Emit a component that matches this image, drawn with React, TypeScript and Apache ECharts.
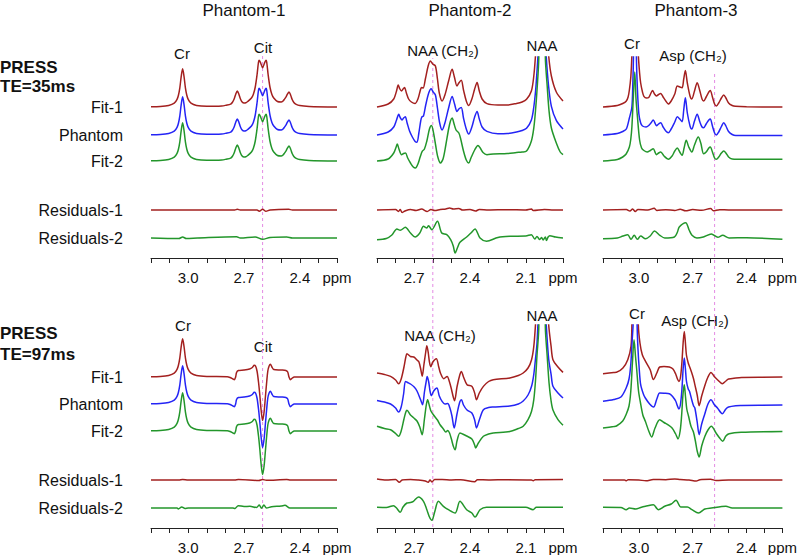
import React, { useEffect, useRef } from "react";
import * as echarts from "echarts";

// ---------- labels / axes ----------
const TRACE_NAMES = ["Fit-1", "Phantom", "Fit-2", "Residuals-1", "Residuals-2"];
const TOP_OFFSETS = [151, 123, 97, 48, 20];
const BOTTOM_OFFSETS = [151, 124, 97, 48, 20];
const COLUMN_TITLES = ["Phantom-1", "Phantom-2", "Phantom-3"];
const PPM_RANGES = [[2.2, 3.2], [1.9, 2.9], [2.2, 3.2]];
const TICK_LABELS = [["3.0", "2.7", "2.4"], ["2.7", "2.4", "2.1"], ["3.0", "2.7", "2.4"]];
const DASH_PPM = 2.6;

// ---------- Phantom-1, TE=35ms ----------
const P1T_SPEC = [[3.2,0.3],[3.15,0.5],[3.105,1.5],[3.075,3.8],[3.06,7.7],[3.0525,11.8],[3.045,19.2],[3.0375,30.6],[3.03,38.3],[3.0225,30.6],[3.015,19.2],[3.0075,11.8],[3.0,7.7],[2.985,3.8],[2.955,1.5],[2.9,0.7],[2.82,1],[2.796,1.8],[2.772,2.9],[2.762,4.8],[2.753,8],[2.7445,12.8],[2.736,16],[2.7275,12.8],[2.719,8],[2.71,5],[2.7,4],[2.69,4.3],[2.68,5.5],[2.66,9],[2.65,12.5],[2.64,19.5],[2.63,32],[2.622,45],[2.618,46.7],[2.61,43.8],[2.6,39.3],[2.59,43.8],[2.582,46.7],[2.578,45],[2.57,32],[2.56,19.5],[2.55,12.5],[2.54,9],[2.52,5.5],[2.5,5],[2.49,6],[2.484,7.5],[2.475,9.8],[2.4665,12.8],[2.458,15],[2.4495,12],[2.441,7.5],[2.432,4.5],[2.422,2.9],[2.4,1.4],[2.35,0.6],[2.2,0.1]];
const P1T_RES1 = [[3.2,0],[2.75,0],[2.736,0.7],[2.72,0],[2.63,0],[2.618,-1.3],[2.6,0.7],[2.582,-1.3],[2.56,0],[2.46,0.7],[2.44,0],[2.2,0]];
const P1T_RES2 = [[3.2,0],[3.05,-0.5],[3.03,1],[3.01,-0.5],[2.95,0],[2.74,1.3],[2.72,0],[2.64,1],[2.6,-1.3],[2.56,0.5],[2.47,1],[2.44,0],[2.2,0]];

// ---------- Phantom-2, TE=35ms ----------
const P2T_FIT1 = [[2.9,0],[2.84,3],[2.81,8],[2.795,16],[2.786,22],[2.777,18],[2.768,16],[2.76,18],[2.752,19.4],[2.742,14],[2.73,8],[2.715,5],[2.696,3.4],[2.68,8],[2.668,16],[2.661,19.4],[2.652,19],[2.64,28],[2.625,41],[2.613,46],[2.6,43],[2.586,41],[2.575,28],[2.565,14],[2.55,6],[2.535,12],[2.515,26],[2.496,37.7],[2.484,30],[2.47,21],[2.46,24],[2.447,26.7],[2.435,17],[2.42,6],[2.407,1.5],[2.39,8],[2.375,18],[2.362,24.4],[2.35,16],[2.335,8],[2.309,3.4],[2.25,2],[2.2,2],[2.15,3.5],[2.12,5],[2.096,7.7],[2.07,16],[2.057,31],[2.048,51],[2.04,75],[2.03,150],[2.0125,600],[1.995,150],[1.985,75],[1.977,51],[1.9625,31],[1.936,15],[1.9,6]];
const P2T_PHANTOM = [[2.9,0],[2.84,3],[2.81,8],[2.795,15],[2.783,20.7],[2.774,17],[2.765,15],[2.757,17],[2.748,18.3],[2.738,12],[2.725,4],[2.71,-2],[2.695,-6.5],[2.685,-7.3],[2.675,2],[2.665,14],[2.659,18],[2.65,19],[2.638,30],[2.622,42],[2.609,46.3],[2.598,43],[2.586,40],[2.575,27],[2.563,12],[2.55,5],[2.535,12],[2.515,27],[2.496,38.6],[2.483,31],[2.47,23.6],[2.46,26],[2.447,27.6],[2.435,17],[2.42,6],[2.407,1],[2.39,8],[2.375,18],[2.362,23.6],[2.35,16],[2.335,8],[2.309,3.6],[2.25,1.3],[2.2,1.5],[2.15,3],[2.12,4.5],[2.096,6.7],[2.07,15],[2.057,28],[2.047,45],[2.04,63],[2.035,78],[2.03,100],[2.02,300],[2.0125,1500],[2.005,300],[1.995,100],[1.99,78],[1.977,48],[1.9625,28.7],[1.936,14.6],[1.9,6]];
const P2T_FIT2 = [[2.9,0],[2.84,2],[2.81,8],[2.797,14],[2.791,17],[2.782,12],[2.768,6.3],[2.757,7.5],[2.747,8],[2.735,3],[2.72,-2],[2.705,-6],[2.693,-7],[2.68,-3],[2.668,4],[2.657,9.6],[2.645,12],[2.632,20],[2.618,32],[2.607,35.6],[2.596,28],[2.585,16],[2.573,4],[2.559,-2],[2.545,2],[2.53,16],[2.515,32],[2.505,40],[2.496,43],[2.487,38],[2.475,31],[2.46,28],[2.45,22],[2.435,10],[2.42,1],[2.407,-2],[2.395,3],[2.375,11],[2.357,15.6],[2.345,13],[2.33,8.5],[2.309,6.3],[2.275,7],[2.2,7.5],[2.15,8.5],[2.12,9],[2.096,10],[2.07,20],[2.057,33],[2.048,50],[2.04,70],[2.03,104],[2.02,300],[2.0125,1500],[2.005,300],[1.995,104],[1.985,75],[1.975,50],[1.9625,33],[1.936,18],[1.915,9],[1.9,6.3]];
const P2T_RES1 = [[2.9,0],[2.8,0.5],[2.785,-1.5],[2.775,0.5],[2.765,-2.5],[2.75,-1],[2.72,0.5],[2.69,-0.5],[2.66,1],[2.63,-1.5],[2.61,0.5],[2.59,-0.5],[2.56,0.5],[2.53,1],[2.51,2],[2.49,1],[2.46,1.5],[2.44,0],[2.4,0.5],[2.37,-1],[2.35,0.5],[2.3,0],[2.2,0.3],[2.1,0],[2.07,1],[2.06,-0.5],[2.0,0.5],[1.95,0],[1.9,0]];
const P2T_RES2 = [[2.9,-1.7],[2.85,-0.5],[2.82,3],[2.793,9],[2.775,7.7],[2.748,10.7],[2.72,5],[2.695,1],[2.67,5],[2.65,11.7],[2.632,10],[2.623,12.3],[2.605,8.3],[2.575,16.7],[2.552,5],[2.525,3.3],[2.504,-1.7],[2.49,-8],[2.48,-15],[2.468,-10],[2.454,-4.3],[2.418,1],[2.395,5],[2.373,9],[2.346,0],[2.311,-3.3],[2.25,0.5],[2.186,1.7],[2.1,2],[2.07,3.3],[2.052,-1],[2.04,1.5],[2.025,-1.5],[2.015,0.5],[2.007,-2],[1.995,1],[1.989,-2.5],[1.98,1],[1.971,2.3],[1.94,1],[1.9,0]];

// ---------- Phantom-3, TE=35ms ----------
const P3T_FIT1 = [[3.2,0],[3.12,1.5],[3.09,3.5],[3.071,5.7],[3.06,10],[3.053,17],[3.045,30],[3.039,52],[3.035,80],[3.03,150],[3.021,600],[3.012,150],[3.007,80],[3.003,52],[2.996,34],[2.99,24],[2.98,15],[2.972,10.7],[2.958,9],[2.945,9.5],[2.935,13],[2.924,16.5],[2.913,13],[2.902,11],[2.89,12.5],[2.878,13.5],[2.865,10],[2.85,6],[2.836,3],[2.82,6],[2.8,13],[2.786,21],[2.772,20],[2.759,19.3],[2.75,28],[2.741,36.5],[2.73,24],[2.715,11],[2.705,8],[2.69,16],[2.675,24.3],[2.66,16],[2.648,8],[2.639,6],[2.625,10],[2.61,15],[2.602,16.5],[2.59,10],[2.578,3],[2.568,1],[2.555,4],[2.54,9],[2.527,12],[2.515,9],[2.5,4],[2.48,1.5],[2.462,0.7],[2.4,0.2],[2.2,0]];
const P3T_PHANTOM = [[3.2,0],[3.12,1.5],[3.09,3.5],[3.07,6],[3.053,17],[3.039,28],[3.034,50],[3.03,80],[3.026,150],[3.021,600],[3.017,150],[3.014,80],[3.008,45],[3.0,21],[2.99,12],[2.98,9],[2.96,8],[2.945,9.5],[2.933,12],[2.92,15],[2.908,11],[2.902,9.3],[2.89,11],[2.878,12.3],[2.865,8],[2.85,4],[2.836,2.3],[2.82,6],[2.8,13],[2.786,18.3],[2.772,16],[2.759,13.3],[2.75,25],[2.741,37.3],[2.73,22],[2.715,9],[2.705,6],[2.69,14],[2.675,20.7],[2.66,13],[2.648,8],[2.639,7.3],[2.625,11],[2.61,15],[2.602,16],[2.59,9],[2.578,2],[2.568,0],[2.555,3],[2.54,8.5],[2.527,12.3],[2.515,9],[2.5,3.5],[2.48,0.5],[2.46,-0.5],[2.4,-0.5],[2.2,-0.5]];
const P3T_FIT2 = [[3.2,0],[3.12,1.5],[3.09,4],[3.071,7],[3.053,14],[3.045,22],[3.039,34],[3.032,60],[3.023,89],[3.016,62],[3.008,44],[2.996,21],[2.985,13],[2.972,10.5],[2.954,9],[2.936,10.5],[2.92,12.3],[2.908,8],[2.902,6.3],[2.89,8],[2.878,9],[2.86,5],[2.836,1.7],[2.815,5],[2.8,10],[2.786,13],[2.772,9],[2.759,5.7],[2.748,13],[2.736,20.7],[2.722,14],[2.705,9],[2.69,16],[2.669,24],[2.655,18],[2.639,7.3],[2.625,9],[2.61,13],[2.602,14],[2.59,9],[2.578,3],[2.568,1.7],[2.555,4],[2.54,8],[2.527,10],[2.515,8],[2.5,4],[2.48,2],[2.45,1.7],[2.2,1.7]];
const P3T_RES1 = [[3.2,0],[3.07,0.5],[3.05,-1],[3.035,1],[3.02,-1.5],[3.005,0.5],[2.95,0],[2.915,1.7],[2.9,-0.5],[2.85,0.3],[2.8,-0.5],[2.77,0.8],[2.74,-0.8],[2.7,0.5],[2.65,-0.3],[2.6,1.5],[2.585,-0.8],[2.55,0.3],[2.5,0],[2.2,0]];
const P3T_RES2 = [[3.2,-0.7],[3.12,0],[3.089,2],[3.062,3.3],[3.044,-1.3],[3.026,2.7],[3.008,-1.3],[2.99,2],[2.963,-0.7],[2.937,2],[2.913,7],[2.883,2.7],[2.856,0],[2.802,1],[2.785,6],[2.775,11],[2.739,15.3],[2.72,8],[2.704,2.7],[2.677,0],[2.641,1],[2.596,4],[2.56,0.7],[2.533,2.7],[2.497,0],[2.4,0.3],[2.2,-1.3]];

// ---------- Phantom-1, TE=97ms ----------
const P1B_SPEC = [[3.2,0.3],[3.15,0.5],[3.105,1.5],[3.075,3.8],[3.06,7.7],[3.0525,11.8],[3.045,19.2],[3.0375,30.6],[3.03,38.3],[3.0225,30.6],[3.015,19.2],[3.0075,11.8],[3.0,7.7],[2.985,3.8],[2.955,1.5],[2.9,0.6],[2.79,0.3],[2.775,-0.5],[2.76,-2],[2.752,-2.7],[2.745,0],[2.74,4.5],[2.73,6.5],[2.7,7],[2.67,8],[2.655,9.5],[2.645,11.7],[2.638,11],[2.63,6],[2.622,-5],[2.615,-18],[2.608,-33],[2.6,-43.5],[2.592,-35],[2.585,-20],[2.578,-5],[2.572,6],[2.565,11],[2.558,12.7],[2.55,10],[2.54,7.5],[2.5,7],[2.475,6.5],[2.465,5],[2.458,0],[2.45,-2.7],[2.44,-1],[2.43,0],[2.2,0]];
const P1B_RES1 = [[3.2,0],[3.05,0],[3.03,0.5],[3.0,0],[2.75,0],[2.73,0.5],[2.62,-0.5],[2.6,0.5],[2.58,-0.3],[2.47,0.5],[2.45,0],[2.2,0]];
const P1B_RES2 = [[3.2,0],[3.06,0],[3.053,-1],[3.035,1],[3.017,-0.5],[3.0,0],[2.76,0],[2.749,-0.5],[2.731,2.3],[2.7,1.5],[2.668,1.7],[2.633,0.5],[2.618,3],[2.606,-0.3],[2.593,3],[2.579,0],[2.552,1.3],[2.5,2],[2.48,2.7],[2.453,0],[2.2,0]];

// ---------- Phantom-2, TE=97ms ----------
const P2B_FIT1 = [[2.9,4],[2.86,2.5],[2.827,0.6],[2.8,-3],[2.784,-6.7],[2.77,-2],[2.755,10],[2.745,20],[2.739,23.3],[2.72,20.5],[2.702,20],[2.685,17],[2.675,15.3],[2.665,8],[2.657,0.8],[2.648,12],[2.638,25],[2.632,31.3],[2.625,25],[2.618,15],[2.611,10.3],[2.6,15],[2.581,18.3],[2.568,10],[2.559,4],[2.541,-1.7],[2.523,0.6],[2.511,-4.4],[2.5,-12],[2.49,-20],[2.483,-23.7],[2.47,-10],[2.455,2],[2.446,5.6],[2.435,0],[2.416,-7.7],[2.389,-9.4],[2.375,-16],[2.365,-22.7],[2.35,-16],[2.328,-9.4],[2.3,-4.5],[2.275,-2.7],[2.186,-1],[2.14,1.5],[2.114,4],[2.088,9],[2.069,17.3],[2.057,30.6],[2.048,52],[2.04,80],[2.03,150],[2.0125,600],[1.995,150],[1.985,80],[1.977,52],[1.964,30.6],[1.954,17.3],[1.927,10],[1.9,4.6]];
const P2B_PHANTOM = [[2.9,3.6],[2.86,2],[2.827,0],[2.8,-4],[2.784,-8],[2.77,-3],[2.757,10],[2.747,22.6],[2.735,21.5],[2.72,20],[2.7,17],[2.685,13],[2.665,4],[2.655,-0.7],[2.645,12],[2.636,22],[2.63,27.6],[2.622,22],[2.615,13],[2.608,8.3],[2.595,13],[2.578,16],[2.565,8],[2.55,2.6],[2.535,0],[2.52,0.5],[2.508,-4],[2.497,-12],[2.485,-24],[2.47,-10],[2.455,2],[2.446,4.3],[2.435,-1],[2.416,-6],[2.39,-9],[2.375,-16],[2.365,-24],[2.35,-16],[2.328,-5.7],[2.3,-3.5],[2.275,-3],[2.186,-2],[2.14,0],[2.114,3],[2.088,9],[2.069,17.7],[2.057,29.7],[2.048,45],[2.04,60],[2.035,79],[2.03,100],[2.02,300],[2.0125,1500],[2.005,300],[1.995,100],[1.99,79],[1.977,45],[1.964,29.7],[1.954,17.7],[1.927,11],[1.9,6]];
const P2B_FIT2 = [[2.9,4.7],[2.86,2.5],[2.827,1.3],[2.8,-2.5],[2.784,-5.3],[2.77,0],[2.755,12],[2.745,19],[2.739,20.7],[2.72,16],[2.702,13],[2.685,10],[2.67,4],[2.657,-3.7],[2.645,12],[2.635,26],[2.628,31.3],[2.618,25],[2.61,20],[2.596,16],[2.575,11],[2.56,6],[2.543,2],[2.53,-1],[2.52,0.5],[2.51,-2],[2.5,-8],[2.49,-15],[2.48,-18.7],[2.47,-10],[2.454,-2],[2.44,-3],[2.418,-5],[2.39,-8],[2.375,-14],[2.37,-17],[2.355,-12],[2.328,-5.3],[2.3,-3],[2.275,-2],[2.186,-0.5],[2.14,2.5],[2.114,4.7],[2.088,11.3],[2.069,19.7],[2.057,31.3],[2.048,50],[2.04,75],[2.03,104],[2.02,300],[2.0125,1500],[2.005,300],[1.995,104],[1.985,75],[1.975,48],[1.964,30],[1.954,21],[1.927,11.3],[1.9,5.7]];
const P2B_RES1 = [[2.9,1],[2.85,0],[2.8,0.5],[2.78,-2.3],[2.765,0],[2.72,0.5],[2.68,0],[2.64,-1],[2.625,-2.3],[2.615,0],[2.605,-2],[2.59,0.5],[2.55,0.5],[2.5,0],[2.45,0.3],[2.375,-1.7],[2.36,0.3],[2.3,0],[2.2,0.3],[2.07,0],[2.06,-0.7],[2.05,0.3],[1.9,0.5]];
const P2B_RES2 = [[2.9,0.7],[2.85,0.5],[2.811,2.3],[2.795,0],[2.775,-4.3],[2.76,1],[2.739,5],[2.72,5.5],[2.704,6.7],[2.677,11],[2.65,6.7],[2.632,-1.7],[2.618,-9],[2.605,-12.3],[2.59,-4],[2.57,6.7],[2.543,1.7],[2.516,-1.7],[2.48,-5],[2.454,6.7],[2.418,-1.7],[2.39,-5],[2.373,-9],[2.346,-1.7],[2.311,0.7],[2.2,0.7],[2.1,0.7],[2.061,-1.7],[2.043,0.7],[1.9,0.7]];

// ---------- Phantom-3, TE=97ms ----------
const P3B_FIT1 = [[3.2,3.3],[3.14,4.5],[3.125,4.7],[3.089,9],[3.062,17.3],[3.044,30.7],[3.039,52],[3.03,150],[3.021,600],[3.012,150],[3.003,52],[2.994,34],[2.981,22.3],[2.963,15.7],[2.937,7.3],[2.919,-2.5],[2.9,4],[2.884,10],[2.86,10.5],[2.83,10],[2.81,8],[2.795,3],[2.785,-2],[2.777,-4.4],[2.768,0],[2.76,15],[2.753,35],[2.747,45.6],[2.741,35],[2.735,22],[2.725,14],[2.718,10.6],[2.705,4],[2.695,-2],[2.688,-7.7],[2.675,-18],[2.664,-28.7],[2.65,-19],[2.634,-9.4],[2.615,0],[2.598,4.6],[2.58,0.5],[2.562,-2.7],[2.535,-6.7],[2.515,-4],[2.5,-2],[2.46,-1],[2.428,-0.5],[2.2,0]];
const P3B_PHANTOM = [[3.2,2.7],[3.14,4.5],[3.1,7],[3.071,16],[3.055,25],[3.045,40],[3.037,65],[3.032,80],[3.027,150],[3.021,600],[3.015,150],[3.01,80],[3.005,55],[2.998,35],[2.99,19.3],[2.975,10],[2.964,6],[2.94,0],[2.918,-3],[2.9,5],[2.884,11],[2.86,10.8],[2.83,10.3],[2.81,7],[2.795,3],[2.785,-2],[2.777,-5],[2.768,0],[2.76,15],[2.753,36],[2.747,46],[2.741,36],[2.735,23],[2.725,15],[2.718,12.7],[2.705,4],[2.695,-2],[2.688,-4],[2.675,-18],[2.664,-30.7],[2.65,-20],[2.634,-10.7],[2.615,0],[2.598,4.3],[2.58,-0.5],[2.562,-4],[2.535,-9.7],[2.515,-5],[2.5,-3],[2.46,-1.7],[2.428,-1.5],[2.2,-1]];
const P3B_FIT2 = [[3.2,3],[3.14,4.5],[3.125,5],[3.09,10],[3.07,17],[3.055,25],[3.045,40],[3.036,68],[3.027,91.3],[3.019,75],[3.012,61.3],[3.002,40],[2.991,28],[2.978,16],[2.964,9.7],[2.945,0],[2.929,-6],[2.91,3],[2.884,11.3],[2.86,8.5],[2.839,6.3],[2.815,3],[2.795,-3],[2.782,-8],[2.77,0],[2.762,15],[2.754,37],[2.747,46.3],[2.74,34],[2.733,22],[2.723,14.7],[2.71,5],[2.696,-1],[2.685,-10],[2.675,-20],[2.664,-26],[2.65,-15],[2.632,-5.3],[2.615,1],[2.596,4.7],[2.57,-2],[2.55,-7],[2.533,-10.3],[2.515,-5],[2.497,-2.7],[2.43,-1.3],[2.2,-0.5]];
const P3B_RES1 = [[3.2,0],[3.08,0],[3.07,-0.8],[3.06,0.3],[3.0,0],[2.96,-0.8],[2.92,0.5],[2.85,0.3],[2.8,1],[2.77,0.5],[2.72,0],[2.68,-1],[2.66,0.3],[2.6,0.7],[2.57,-0.5],[2.5,0],[2.2,0]];
const P3B_RES2 = [[3.2,0.7],[3.1,0.5],[3.071,-1.7],[3.053,0],[3.017,-1],[2.99,0.5],[2.963,1.7],[2.919,3.3],[2.892,-1.7],[2.856,1.7],[2.82,4],[2.793,7.7],[2.766,1],[2.73,1],[2.704,-1.7],[2.668,-5],[2.632,-1],[2.596,0],[2.515,1.7],[2.48,0],[2.2,0]];

// ---------- styling / layout ----------
const FONT = '"Liberation Sans", Arial, Helvetica, sans-serif';
const RED = "#a3201f";
const BLUE = "#2424f5";
const GREEN = "#23962b";
const TRACE_COLORS = [RED, BLUE, GREEN, RED, GREEN];
const COL_LEFT = [151, 377, 603];
const COL_WIDTH = 186;
const ROW_TOP = [57, 325];
const ROW_HEIGHT = [201, 203];
const DASH_TOP = [55, 58, 72];
const DASH_BOTTOM = 527;

const PANELS = [
  { row: 0, col: 0, traces: [P1T_SPEC, P1T_SPEC, P1T_SPEC, P1T_RES1, P1T_RES2] },
  { row: 0, col: 1, traces: [P2T_FIT1, P2T_PHANTOM, P2T_FIT2, P2T_RES1, P2T_RES2] },
  { row: 0, col: 2, traces: [P3T_FIT1, P3T_PHANTOM, P3T_FIT2, P3T_RES1, P3T_RES2] },
  { row: 1, col: 0, traces: [P1B_SPEC, P1B_SPEC, P1B_SPEC, P1B_RES1, P1B_RES2] },
  { row: 1, col: 1, traces: [P2B_FIT1, P2B_PHANTOM, P2B_FIT2, P2B_RES1, P2B_RES2] },
  { row: 1, col: 2, traces: [P3B_FIT1, P3B_PHANTOM, P3B_FIT2, P3B_RES1, P3B_RES2] },
];

function txt(text: string, x: number, y: number, size: number, align = "center", weight = "normal") {
  return {
    type: "text",
    x,
    y,
    silent: true,
    style: {
      text,
      align,
      textAlign: align,
      verticalAlign: "middle",
      textVerticalAlign: "middle",
      fontSize: size,
      fontWeight: weight,
      fontFamily: FONT,
      fill: "#111",
    },
  };
}

function buildOption() {
  const grid: any[] = [];
  const xAxis: any[] = [];
  const yAxis: any[] = [];
  const series: any[] = [];

  PANELS.forEach((p, i) => {
    const [mn, mx] = PPM_RANGES[p.col];
    const offsets = p.row === 0 ? TOP_OFFSETS : BOTTOM_OFFSETS;
    const labels = TICK_LABELS[p.col];
    grid.push({ left: COL_LEFT[p.col], width: COL_WIDTH, top: ROW_TOP[p.row], height: ROW_HEIGHT[p.row] });
    xAxis.push({
      type: "value",
      gridIndex: i,
      min: mn,
      max: mx,
      interval: 0.1,
      inverse: true,
      axisLine: { show: true, onZero: false, lineStyle: { color: "#222", width: 1 } },
      axisTick: { show: true, length: 5, lineStyle: { color: "#222", width: 1 } },
      splitLine: { show: false },
      axisLabel: {
        show: true,
        showMinLabel: true,
        showMaxLabel: true,
        margin: 12,
        fontSize: 15,
        fontFamily: FONT,
        color: "#111",
        formatter: (v: number) => {
          if (Math.abs(v - mn) < 1e-6) return "ppm";
          const s = v.toFixed(1);
          return labels.includes(s) ? s : "";
        },
      },
    });
    yAxis.push({
      type: "value",
      gridIndex: i,
      min: 0,
      max: ROW_HEIGHT[p.row],
      show: p.col === 0,
      axisLine: { show: false },
      axisTick: { show: false },
      splitLine: { show: false },
      axisLabel: {
        show: p.col === 0,
        customValues: offsets,
        margin: 28,
        fontSize: 16,
        fontFamily: FONT,
        color: "#111",
        formatter: (v: number) => {
          const k = offsets.findIndex((o) => Math.abs(o - v) < 1e-6);
          return k >= 0 ? TRACE_NAMES[k] : "";
        },
      },
    });
    p.traces.forEach((shape, k) => {
      series.push({
        type: "line",
        name: TRACE_NAMES[k],
        xAxisIndex: i,
        yAxisIndex: i,
        data: shape.map(([x, y]) => [x, y + offsets[k]]),
        symbol: "none",
        showSymbol: false,
        smooth: 0.3,
        clip: true,
        silent: true,
        z: 3,
        lineStyle: { color: TRACE_COLORS[k], width: 1.5 },
      });
    });
  });

  // dashed reference line columns
  COL_LEFT.forEach((left, c) => {
    const gi = PANELS.length + c;
    const [mn, mx] = PPM_RANGES[c];
    grid.push({ left, width: COL_WIDTH, top: DASH_TOP[c], height: DASH_BOTTOM - DASH_TOP[c] });
    xAxis.push({ type: "value", gridIndex: gi, min: mn, max: mx, inverse: true, show: false });
    yAxis.push({ type: "value", gridIndex: gi, min: 0, max: 1, show: false });
    series.push({
      type: "line",
      xAxisIndex: gi,
      yAxisIndex: gi,
      data: [[DASH_PPM, 0], [DASH_PPM, 1]],
      symbol: "none",
      silent: true,
      z: 1,
      lineStyle: { color: "#e48ae4", width: 1, type: [3, 3] },
    });
  });

  const graphic: any[] = [
    ...COLUMN_TITLES.map((t, c) => txt(t, COL_LEFT[c] + COL_WIDTH / 2, 10, 17)),
    txt("PRESS", 0, 67, 17, "left", "bold"),
    txt("TE=35ms", 0, 86, 17, "left", "bold"),
    txt("PRESS", 0, 333, 17, "left", "bold"),
    txt("TE=97ms", 0, 354, 17, "left", "bold"),
    txt("Cr", 182, 53, 15),
    txt("Cit", 263, 47, 15),
    txt("NAA (CH\u2082)", 443, 50, 15),
    txt("NAA", 542, 45, 15),
    txt("Cr", 632, 43, 15),
    txt("Asp (CH\u2082)", 693, 55, 15),
    txt("Cr", 183, 325, 15),
    txt("Cit", 263, 346, 15),
    txt("NAA (CH\u2082)", 440, 335, 15),
    txt("NAA", 542, 315, 15),
    txt("Cr", 637, 313, 15),
    txt("Asp (CH\u2082)", 695, 320, 15),
  ];

  return {
    animation: false,
    backgroundColor: "#ffffff",
    grid,
    xAxis,
    yAxis,
    series,
    graphic,
  };
}

export default function App() {
  const ref = useRef<HTMLDivElement>(null);
  useEffect(() => {
    if (!ref.current) return;
    const chart = echarts.init(ref.current, null, { renderer: "svg" });
    chart.setOption(buildOption() as any);
    return () => chart.dispose();
  }, []);
  return <div ref={ref} style={{ width: 800, height: 555, position: "absolute", left: 0, top: 0 }} />;
}
